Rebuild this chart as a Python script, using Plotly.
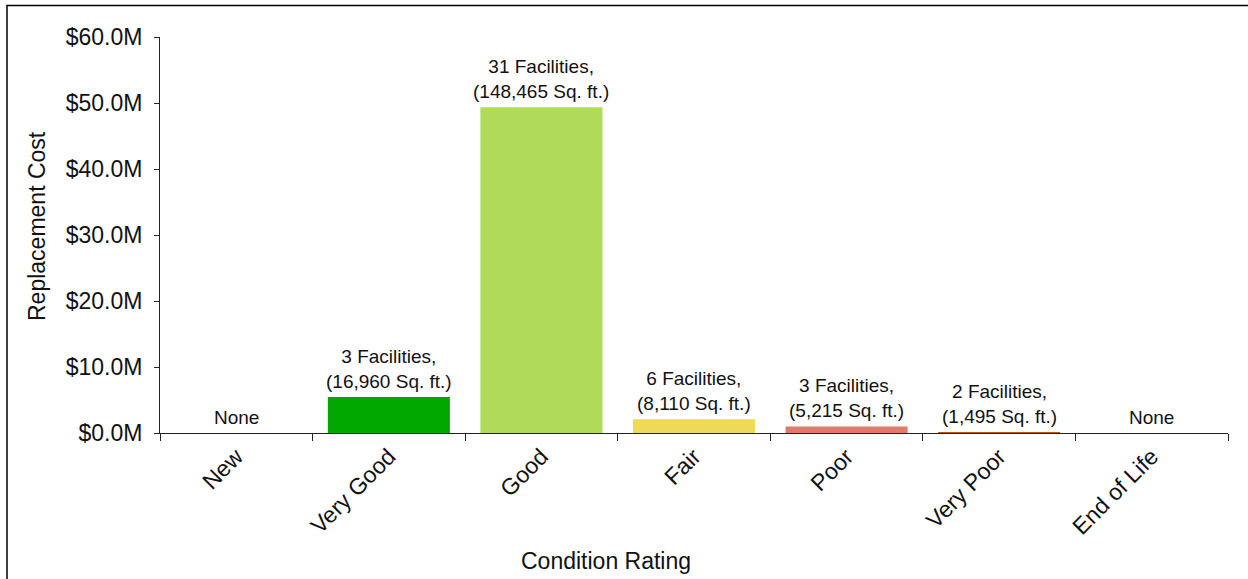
import plotly.graph_objects as go

# Replacement cost by condition rating (millions of dollars)
categories = ["New", "Very Good", "Good", "Fair", "Poor", "Very Poor", "End of Life"]
replacement_cost_m = [0.0, 5.45, 49.35, 2.07, 1.0, 0.15, 0.0]
bar_labels = [
    "None",
    "3 Facilities,<br>(16,960 Sq. ft.)",
    "31 Facilities,<br>(148,465 Sq. ft.)",
    "6 Facilities,<br>(8,110 Sq. ft.)",
    "3 Facilities,<br>(5,215 Sq. ft.)",
    "2 Facilities,<br>(1,495 Sq. ft.)",
    "None",
]
bar_colors = ["#FFFFFF", "#00A800", "#B0DA5A", "#EFD95B", "#E07A6A", "#B8560A", "#FFFFFF"]
y_tick_values = [0, 10, 20, 30, 40, 50, 60]
y_tick_labels = ["$0.0M", "$10.0M", "$20.0M", "$30.0M", "$40.0M", "$50.0M", "$60.0M"]

FONT = "Liberation Sans, Arial, sans-serif"
W, H = 1248, 579
ML, MR, MT, MB = 160, 20, 37, 146
PW, PH = W - ML - MR, H - MT - MB


def px_to_paper_x(px):
    return (px - ML) / PW


def px_to_paper_y(py):
    return (H - MB - py) / PH


fig = go.Figure(
    go.Bar(
        x=categories,
        y=replacement_cost_m,
        marker=dict(color=bar_colors, line=dict(width=0)),
        width=0.8,
        hoverinfo="x+y",
    )
)

# value labels above each bar
for cat, val, lab in zip(categories, replacement_cost_m, bar_labels):
    fig.add_annotation(
        x=cat, y=val, xref="x", yref="y",
        text=lab, showarrow=False,
        xanchor="center", yanchor="bottom", yshift=3,
        font=dict(family=FONT, size=19, color="#111111"),
    )

# axis titles
fig.add_annotation(
    x=px_to_paper_x(606), y=px_to_paper_y(561), xref="paper", yref="paper",
    text="Condition Rating", showarrow=False, xanchor="center", yanchor="middle",
    font=dict(family=FONT, size=23, color="#111111"),
)
fig.add_annotation(
    x=px_to_paper_x(37), y=px_to_paper_y(226), xref="paper", yref="paper",
    text="Replacement Cost", showarrow=False, textangle=-90,
    xanchor="center", yanchor="middle",
    font=dict(family=FONT, size=23, color="#111111"),
)

# outer frame of the chart area
fig.add_shape(
    type="rect", xref="paper", yref="paper",
    x0=px_to_paper_x(7), x1=px_to_paper_x(W + 20),
    y0=px_to_paper_y(H + 20), y1=px_to_paper_y(5.5),
    line=dict(color="#000000", width=1.5), fillcolor="rgba(0,0,0,0)",
    layer="below",
)

fig.update_layout(
    width=W, height=H,
    margin=dict(l=ML, r=MR, t=MT, b=MB),
    paper_bgcolor="white", plot_bgcolor="white",
    showlegend=False,
    bargap=0.2,
    font=dict(family=FONT, color="#111111"),
)
fig.update_xaxes(
    type="category",
    showline=True, linecolor="#222222", linewidth=1,
    ticks="outside", tickson="boundaries", ticklen=7, tickcolor="#222222",
    tickangle=-45,
    tickfont=dict(family=FONT, size=23, color="#111111"),
    showgrid=False, zeroline=False,
)
fig.update_yaxes(
    range=[0, 60],
    tickvals=y_tick_values, ticktext=y_tick_labels,
    showline=True, linecolor="#222222", linewidth=1,
    ticks="outside", ticklen=5, tickcolor="#222222",
    ticklabelstandoff=7,
    tickfont=dict(family=FONT, size=23, color="#111111"),
    showgrid=False, zeroline=False,
)

fig.write_html("out.html")
